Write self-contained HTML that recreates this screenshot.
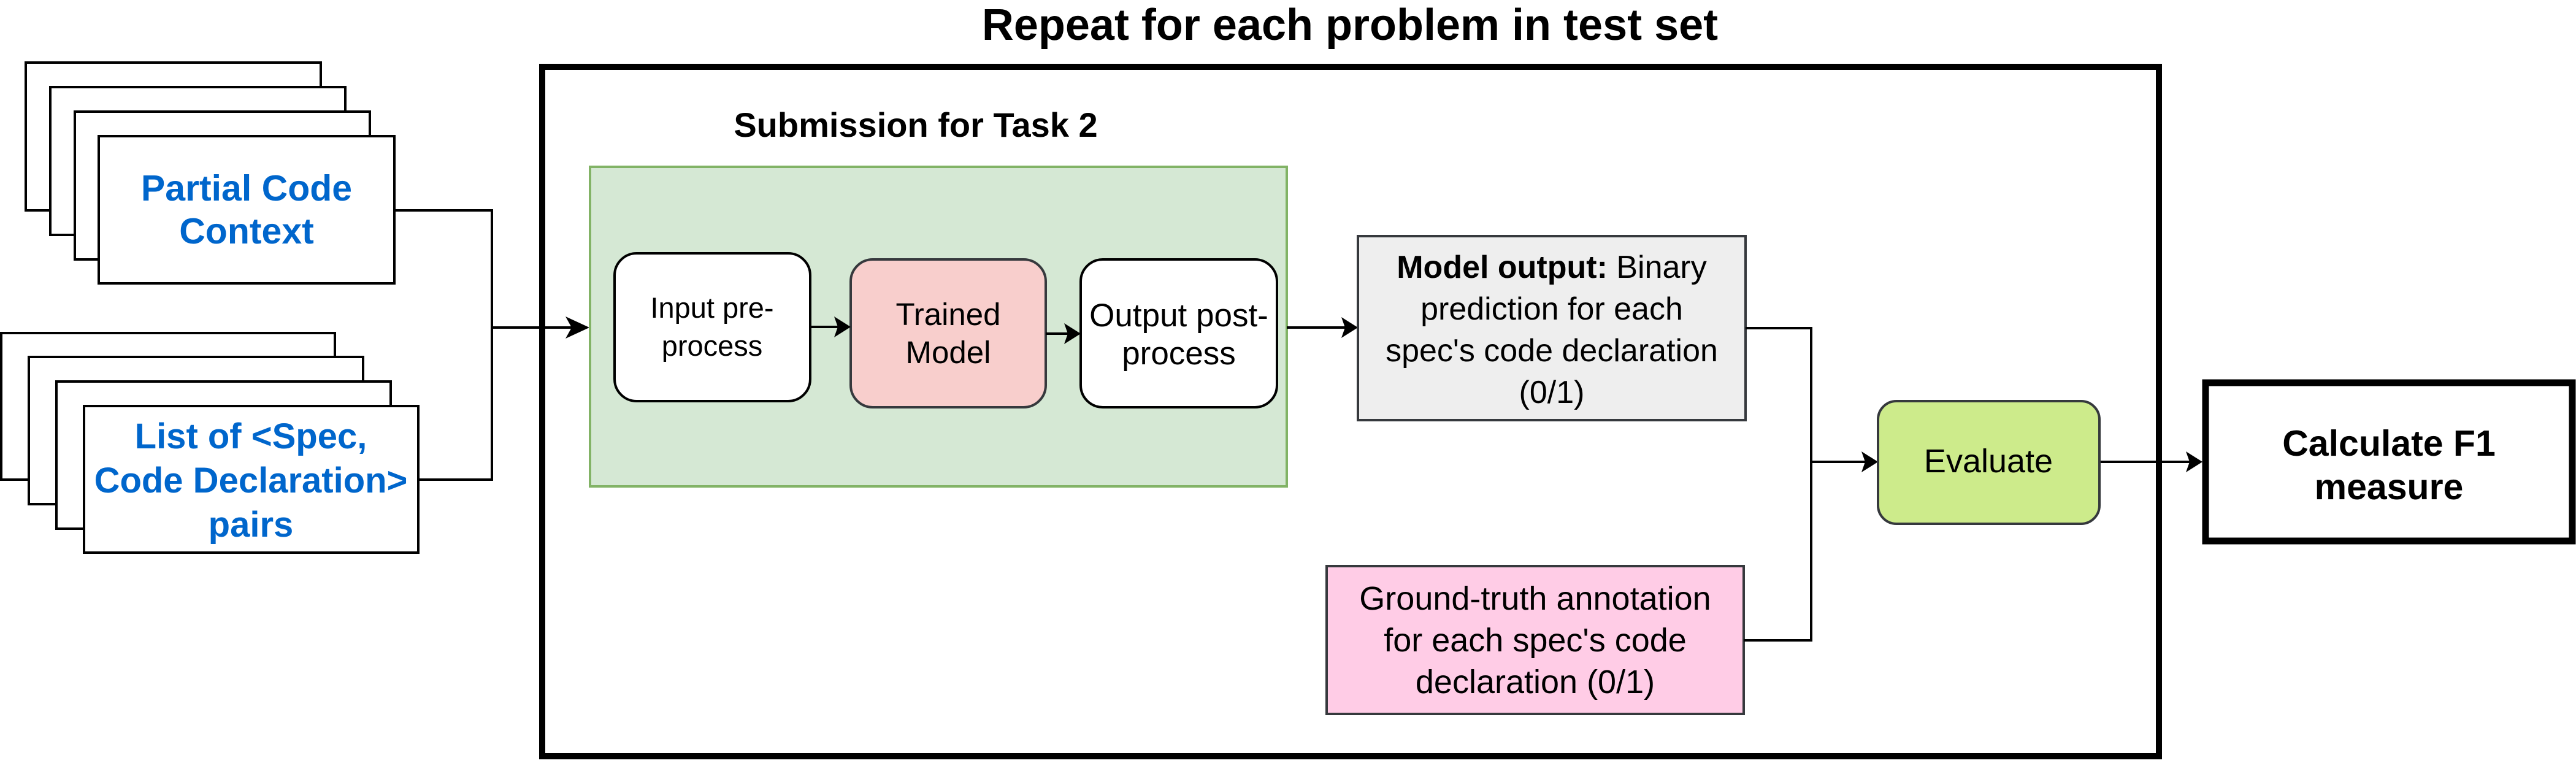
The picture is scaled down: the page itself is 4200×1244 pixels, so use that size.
<!DOCTYPE html>
<html><head><meta charset="utf-8"><style>
html,body{margin:0;padding:0;background:#fff;}
svg{display:block;}
text{font-family:"Liberation Sans",Arial,sans-serif;}
</style></head><body>
<svg width="4200" height="1244" viewBox="0 0 4200 1244" xmlns="http://www.w3.org/2000/svg">
<rect width="4200" height="1244" fill="#fff"/>
<text x="2201" y="65" font-size="72" font-weight="bold" text-anchor="middle">Repeat for each problem in test set</text>
<rect x="884" y="109" width="2636" height="1124" fill="none" stroke="#000" stroke-width="10"/>

<g fill="#fff" stroke="#000" stroke-width="4">
<rect x="42" y="102" width="481" height="241"/>
<rect x="82" y="142" width="481" height="241"/>
<rect x="122" y="182" width="481" height="241"/>
<rect x="161" y="222" width="482" height="240"/>
</g>
<g fill="#0066cc" font-size="59" font-weight="bold" text-anchor="middle">
<text x="402" y="327">Partial Code</text>
<text x="402" y="397">Context</text>
</g>
<g fill="#fff" stroke="#000" stroke-width="4">
<rect x="2" y="543" width="544" height="239"/>
<rect x="47" y="582" width="545" height="240"/>
<rect x="92" y="622" width="545" height="240"/>
<rect x="137" y="662" width="545" height="239"/>
</g>
<g fill="#0066cc" font-size="58" font-weight="bold" text-anchor="middle">
<text x="409" y="731">List of &lt;Spec,</text>
<text x="409" y="803">Code Declaration&gt;</text>
<text x="409" y="875">pairs</text>
</g>

<g fill="none" stroke="#000" stroke-width="4">
<polyline points="643,343 802,343 802,782 682,782"/>
<line x1="802" y1="534" x2="940" y2="534"/>
</g>
<path d="M961,534 L922,516 L932,534 L922,552 Z" fill="#000"/>

<rect x="962" y="272" width="1136" height="521" fill="#d5e8d4" stroke="#82b366" stroke-width="4"/>
<text x="1493" y="223" font-size="56" font-weight="bold" text-anchor="middle">Submission for Task 2</text>

<rect x="1002" y="413" width="319" height="241" rx="36" fill="#fff" stroke="#000" stroke-width="4"/>
<g font-size="47" text-anchor="middle">
<text x="1161" y="518">Input pre-</text>
<text x="1161" y="580">process</text>
</g>
<rect x="1387" y="423" width="318" height="241" rx="36" fill="#f8cecc" stroke="#36393d" stroke-width="4"/>
<g font-size="51" text-anchor="middle">
<text x="1546" y="530">Trained</text>
<text x="1546" y="592">Model</text>
</g>
<rect x="1762" y="423" width="320" height="241" rx="36" fill="#fff" stroke="#000" stroke-width="4"/>
<g font-size="53" text-anchor="middle">
<text x="1922" y="532">Output post-</text>
<text x="1922" y="594">process</text>
</g>
<g fill="none" stroke="#000" stroke-width="4">
<line x1="1321" y1="533" x2="1370" y2="533"/>
<line x1="1705" y1="544" x2="1745" y2="544"/>
<line x1="2098" y1="534" x2="2196" y2="534"/>
</g>
<path d="M1387,533 L1360,516 L1366,533 L1360,550 Z" fill="#000"/>
<path d="M1762,544 L1735,527 L1741,544 L1735,561 Z" fill="#000"/>
<path d="M2214,534 L2187,517 L2193,534 L2187,551 Z" fill="#000"/>

<rect x="2214" y="385" width="632" height="300" fill="#eeeeee" stroke="#36393d" stroke-width="4"/>
<g font-size="52" text-anchor="middle">
<text x="2530" y="453"><tspan font-weight="bold">Model output:</tspan> Binary</text>
<text x="2530" y="521">prediction for each</text>
<text x="2530" y="589">spec's code declaration</text>
<text x="2530" y="657">(0/1)</text>
</g>
<rect x="2163" y="923" width="680" height="241" fill="#ffcce6" stroke="#36393d" stroke-width="4"/>
<g font-size="54" text-anchor="middle">
<text x="2503" y="994">Ground-truth annotation</text>
<text x="2503" y="1062">for each spec's code</text>
<text x="2503" y="1130">declaration (0/1)</text>
</g>
<g fill="none" stroke="#000" stroke-width="4">
<polyline points="2846,535 2953,535 2953,1044 2843,1044"/>
<line x1="2953" y1="753" x2="3045" y2="753"/>
<line x1="3423" y1="753" x2="3570" y2="753"/>
</g>
<path d="M3062,753 L3035,736 L3041,753 L3035,770 Z" fill="#000"/>
<path d="M3591,753 L3564,736 L3570,753 L3564,770 Z" fill="#000"/>

<rect x="3062" y="654" width="361" height="200" rx="30" fill="#cdeb8b" stroke="#36393d" stroke-width="4"/>
<text x="3242" y="770" font-size="54" text-anchor="middle">Evaluate</text>

<rect x="3596" y="624" width="598" height="258" fill="#fff" stroke="#000" stroke-width="11"/>
<g font-size="59" font-weight="bold" text-anchor="middle">
<text x="3895" y="743">Calculate F1</text>
<text x="3895" y="814">measure</text>
</g>
</svg>
</body></html>
